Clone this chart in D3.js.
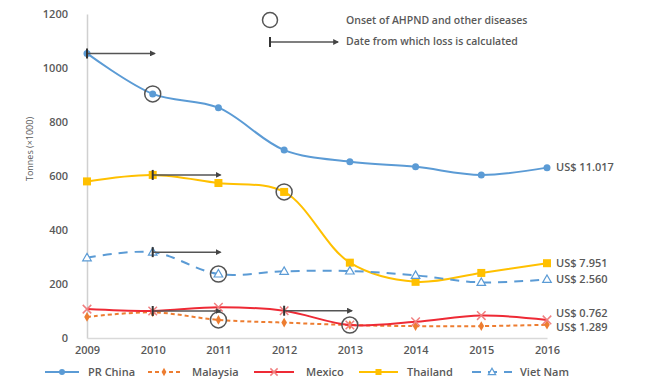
<!DOCTYPE html>
<meta charset="utf-8">
<style>
html, body { margin: 0; background: #fff; }
text { font-family: "Open Sans", sans-serif; fill: #595959; }
.tick text { font-size: 11px; font-weight: 600; }
.series path.line { fill: none; }
</style>
<svg></svg>
<script src="https://d3js.org/d3.v7.min.js"></script>
<script>

var years = [2009, 2010, 2011, 2012, 2013, 2014, 2015, 2016];
var yTicks = [0, 200, 400, 600, 800, 1000, 1200];

var china    = [1054, 904, 853, 696, 653, 634, 604, 631];
var malaysia = [78, 95, 67, 57, 48, 44, 44, 49];
var mexico   = [107, 100, 114, 101, 48, 60, 83, 67];
var thailand = [580, 604, 574, 541, 279, 208, 241, 277];
var vietnam  = [297, 318, 237, 247, 248, 232, 206, 217];

var seriesNames = ['PR China', 'Malaysia', 'Mexico', 'Thailand', 'Viet Nam'];
var endLabels = ['US$ 11.017', 'US$ 1.289', 'US$ 0.762', 'US$ 7.951', 'US$ 2.560'];
var onsetYear = [2010, 2011, 2013, 2012, 2011];
// [series index, start year, end year] of "loss" arrows
var lossArrows = [[0, 2009, 2010], [3, 2010, 2011], [4, 2010, 2011], [1, 2010, 2011], [2, 2012, 2013]];

var width = 650, height = 391;

var svg = d3.select('svg').attr('width', width).attr('height', height);

var x = d3.scaleLinear().domain([2009, 2016]).range([87, 547]);
var y = d3.scaleLinear().domain([0, 1200]).range([338, 14]);

var series = [
  {name: seriesNames[0], values: china,    color: '#5b9bd5', dash: null,  marker: 'circle'},
  {name: seriesNames[1], values: malaysia, color: '#ed7d31', dash: '4 3', marker: 'diamond'},
  {name: seriesNames[2], values: mexico,   color: '#ee2a35', dash: null,  marker: 'cross'},
  {name: seriesNames[3], values: thailand, color: '#ffc000', dash: null,  marker: 'square'},
  {name: seriesNames[4], values: vietnam,  color: '#5b9bd5', dash: '9 7', marker: 'triangle'}
];

// axes
var yAxis = svg.append('g')
  .attr('transform', 'translate(87,0)')
  .call(d3.axisLeft(y).tickValues(yTicks).tickFormat(d3.format('d')).tickSize(0).tickPadding(19));
yAxis.select('.domain').attr('stroke', '#d0d0d0').attr('stroke-width', 1.5);

var xAxis = svg.append('g')
  .attr('transform', 'translate(0,338)')
  .call(d3.axisBottom(x).tickValues(years).tickFormat(d3.format('d')).tickSize(0).tickPadding(8));
xAxis.select('.domain').attr('stroke', '#d9d9d9').attr('stroke-width', 1.5);

svg.append('text')
  .attr('transform', 'translate(33,149) rotate(-90)')
  .attr('text-anchor', 'middle')
  .style('font-size', '9px')
  .text('Tonnes (×1000)');

var line = d3.line()
  .x(function (d, i) { return x(years[i]); })
  .y(function (d) { return y(d); })
  .curve(d3.curveCatmullRom.alpha(0.5));

function drawMarker(g, s, cx, cy, size) {
  if (s.marker === 'circle') {
    g.append('circle').attr('cx', cx).attr('cy', cy).attr('r', size)
      .attr('fill', s.color);
  } else if (s.marker === 'diamond') {
    g.append('path').attr('d', d3.symbol(d3.symbolDiamond, size * size * 2.2)())
      .attr('transform', 'translate(' + cx + ',' + cy + ')').attr('fill', s.color);
  } else if (s.marker === 'square') {
    g.append('rect').attr('x', cx - size).attr('y', cy - size)
      .attr('width', size * 2).attr('height', size * 2).attr('fill', s.color);
  } else if (s.marker === 'cross') {
    g.append('path').attr('d', d3.symbol(d3.symbolX, size * size * 4)())
      .attr('transform', 'translate(' + cx + ',' + cy + ')')
      .attr('fill', 'none').attr('stroke', '#f08080').attr('stroke-width', 1.5);
  } else if (s.marker === 'triangle') {
    g.append('path').attr('d', d3.symbol(d3.symbolTriangle, size * size * 2.6)())
      .attr('transform', 'translate(' + cx + ',' + (cy + 0.5) + ')')
      .attr('fill', '#fff').attr('stroke', s.color).attr('stroke-width', 1.2);
  }
}

// draw lines in Excel order
series.forEach(function (s) {
  var g = svg.append('g').attr('class', 'series');
  g.append('path').attr('class', 'line')
    .attr('d', line(s.values))
    .attr('stroke', s.color)
    .attr('stroke-width', 2)
    .attr('stroke-dasharray', s.dash);
  s.values.forEach(function (v, i) {
    drawMarker(g, s, x(years[i]), y(v), s.marker === 'square' ? 4 : 3.5);
  });
});

// onset circles
svg.append('g').selectAll('circle')
  .data(series)
  .join('circle')
  .attr('cx', function (s, i) { return x(onsetYear[i]); })
  .attr('cy', function (s, i) { return y(s.values[years.indexOf(onsetYear[i])]); })
  .attr('r', 8)
  .attr('fill', 'none')
  .attr('stroke', '#555')
  .attr('stroke-width', 1.5);

// arrowhead
svg.append('defs').append('marker')
  .attr('id', 'arrow')
  .attr('viewBox', '0 0 10 10')
  .attr('refX', 8).attr('refY', 5)
  .attr('markerWidth', 4).attr('markerHeight', 4)
  .attr('orient', 'auto')
  .append('path').attr('d', 'M0,0 L10,5 L0,10 z').attr('fill', '#444');

function lossArrow(x0, x1, yy) {
  var g = svg.append('g');
  g.append('line').attr('x1', x0).attr('x2', x1).attr('y1', yy).attr('y2', yy)
    .attr('stroke', '#555').attr('stroke-width', 1.5).attr('marker-end', 'url(#arrow)');
  g.append('line').attr('x1', x0).attr('x2', x0).attr('y1', yy - 5).attr('y2', yy + 5)
    .attr('stroke', '#333').attr('stroke-width', 2);
}

lossArrows.forEach(function (a) {
  var s = series[a[0]];
  var yy = y(s.values[years.indexOf(a[1])]);
  if (a[0] === 1) yy = y(mexico[years.indexOf(a[1])]);
  lossArrow(x(a[1]), x(a[2]) + 2, yy);
});

// end labels
var labelY = [167, 327, 313, 263, 279];
series.forEach(function (s, i) {
  svg.append('text')
    .attr('x', 556).attr('y', labelY[i])
    .attr('dy', '0.35em')
    .style('font-size', '11px').style('font-weight', 600)
    .attr('fill', '#404040')
    .text(endLabels[i]);
});

// top legend
svg.append('circle').attr('cx', 270).attr('cy', 20).attr('r', 7.5)
  .attr('fill', 'none').attr('stroke', '#555').attr('stroke-width', 1.5);
svg.append('text').attr('x', 346).attr('y', 20).attr('dy', '0.35em')
  .style('font-size', '10.5px').style('font-weight', 600)
  .text('Onset of AHPND and other diseases');
lossArrow(270, 338, 42);
svg.append('text').attr('x', 346).attr('y', 41).attr('dy', '0.35em')
  .style('font-size', '10.5px').style('font-weight', 600)
  .text('Date from which loss is calculated');

// bottom legend
var legendX = [[45, 79, 88], [148, 180, 192], [254, 294, 306], [359, 398, 407], [472, 512, 520]];
series.forEach(function (s, i) {
  var lx = legendX[i];
  var g = svg.append('g');
  g.append('line').attr('x1', lx[0]).attr('x2', lx[1]).attr('y1', 372).attr('y2', 372)
    .attr('stroke', s.color).attr('stroke-width', 2)
    .attr('stroke-dasharray', s.dash);
  drawMarker(g, s, (lx[0] + lx[1]) / 2, 372, 3);
  g.append('text').attr('x', lx[2]).attr('y', 372).attr('dy', '0.35em')
    .style('font-size', '11px').style('font-weight', 600)
    .text(s.name);
});
</script>
